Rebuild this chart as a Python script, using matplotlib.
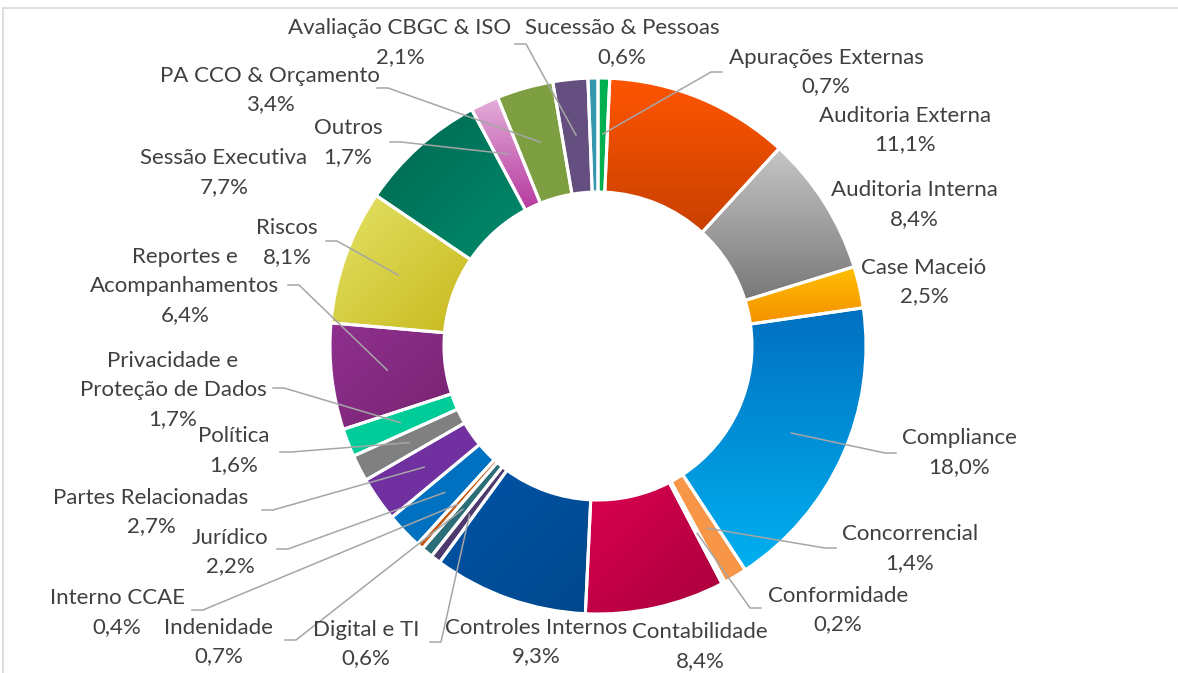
import numpy as np
import matplotlib
matplotlib.use('Agg')
import matplotlib.pyplot as plt
from matplotlib.colors import LinearSegmentedColormap

# Dados (ordem do gráfico, sentido horário a partir do topo)
categorias = ['Apurações Externas', 'Auditoria Externa', 'Auditoria Interna', 'Case Maceió',
              'Compliance', 'Concorrencial', 'Conformidade', 'Contabilidade',
              'Controles Internos', 'Digital e TI', 'Indenidade', 'Interno CCAE',
              'Jurídico', 'Partes Relacionadas', 'Política',
              'Privacidade e\nProteção de Dados', 'Reportes e\nAcompanhamentos', 'Riscos',
              'Sessão Executiva', 'Outros', 'PA CCO & Orçamento', 'Avaliação CBGC & ISO',
              'Sucessão & Pessoas']
percentuais = [0.7, 11.1, 8.4, 2.5, 18.0, 1.4, 0.2, 8.4, 9.3, 0.6, 0.7, 0.4,
               2.2, 2.7, 1.6, 1.7, 6.4, 8.1, 7.7, 1.7, 3.4, 2.1, 0.6]

# Cores (inicio, fim, direção do degradê)
cores = [('#00B050', '#00B050', 'v'), ('#FF5500', '#C84000', 'v'), ('#C6C6C6', '#787878', 'v'),
         ('#FFC000', '#F59000', 'v'), ('#0070C0', '#00B0F0', 'v'), ('#F79646', '#F79646', 'v'),
         ('#A0A0A0', '#A0A0A0', 'v'), ('#DC0050', '#A8003C', 'd'), ('#0054A8', '#00488C', 'd'),
         ('#4E3B6E', '#4E3B6E', 'v'), ('#2C6E78', '#2C6E78', 'v'), ('#C55A11', '#C55A11', 'v'),
         ('#0070C0', '#0070C0', 'v'), ('#7030A0', '#7030A0', 'v'), ('#808080', '#808080', 'v'),
         ('#00CC99', '#00CC99', 'v'), ('#903090', '#782470', 'd'), ('#E4E468', '#C8B81C', 'd'),
         ('#006850', '#008A6C', 'd'), ('#E4AEDA', '#B63AA0', 'v'), ('#7D9F41', '#7D9F41', 'v'),
         ('#644F80', '#644F80', 'v'), ('#3596B0', '#3596B0', 'v')]

# Posição dos rótulos (centro do bloco de texto) e fim da linha de chamada (pixels)
pos_rotulos = [(826, 72), (905, 130), (914, 205), (924, 282), (959, 453), (910, 549),
               (838, 610), (700, 647), (536, 642), (366, 644), (219, 642), (117, 613),
               (230, 552), (151, 512), (234, 451), (173, 390), (185, 286), (287, 243),
               (224, 173), (348, 143), (270, 90), (400, 43), (622, 43)]
fim_linha = [(722, 72), None, None, None, (896, 453), (836, 548), (761, 608), None, None,
             (430, 642), (285, 640), (192, 610), (277, 549), (262, 510), (280, 452),
             (273, 388), (288, 285), (326, 241), None, (390, 142), (377, 88), (515, 44), None]

cx, cy = 598, 346
raio = 268
largura = 114
passo = 29  # distância entre linhas de texto

plt.rcParams['font.family'] = ['Lato', 'DejaVu Sans']

fig = plt.figure(figsize=(11.78, 6.73), dpi=100)
ax = fig.add_axes([0, 0, 1, 1])

wedges, _ = ax.pie(percentuais, colors=[c[0] for c in cores], radius=raio, center=(cx, cy),
                   startangle=270, counterclock=True,
                   wedgeprops=dict(width=largura, linewidth=0))

# degradê dentro de cada fatia
for w, (c0, c1, d) in zip(wedges, cores):
    if c0 == c1:
        continue
    (x0, y0), (x1, y1) = w.get_path().get_extents().get_points()
    g = np.linspace(0, 1, 120)
    X, Y = np.meshgrid(g, g)
    t = Y if d == 'v' else (X + Y) / 2
    cmap = LinearSegmentedColormap.from_list('g', [c0, c1])
    im = ax.imshow(t, cmap=cmap, extent=(x0, x1, y1, y0), origin='upper',
                   interpolation='bilinear', aspect='auto', zorder=2)
    im.set_clip_path(w)

# bordas brancas entre as fatias
ax.pie(percentuais, radius=raio, center=(cx, cy), startangle=270, counterclock=True,
       wedgeprops=dict(width=largura, fill=False, edgecolor='white', linewidth=2.2, zorder=3))

# rótulos e linhas de chamada
for w, nome, v, pos, fim in zip(wedges, categorias, percentuais, pos_rotulos, fim_linha):
    linhas = nome.split('\n') + [f'{v:.1f}'.replace('.', ',') + '%']
    y0 = pos[1] - passo * (len(linhas) - 1) / 2
    for i, lin in enumerate(linhas):
        ax.text(pos[0], y0 + i * passo, lin, ha='center', va='center', fontsize=16,
                color='#404040', zorder=5)
    if fim is not None:
        tm = np.deg2rad((w.theta1 + w.theta2) / 2)
        r = 212
        ax_, ay_ = cx + r * np.cos(tm), cy + r * np.sin(tm)
        cot = fim[0] + 11 * np.sign(ax_ - fim[0])
        ax.plot([ax_, cot, fim[0]], [ay_, fim[1], fim[1]], color='#A6A6A6', lw=1.1, zorder=4)

# moldura
ax.plot([3, 1178], [8, 8], color='#D9D9D9', lw=1.2)
ax.plot([3, 3], [8, 673], color='#D9D9D9', lw=1.2)

ax.set_xlim(0, 1178)
ax.set_ylim(673, 0)
ax.set_aspect('auto')
ax.axis('off')

fig.savefig('out.png', dpi=100, facecolor='white')
